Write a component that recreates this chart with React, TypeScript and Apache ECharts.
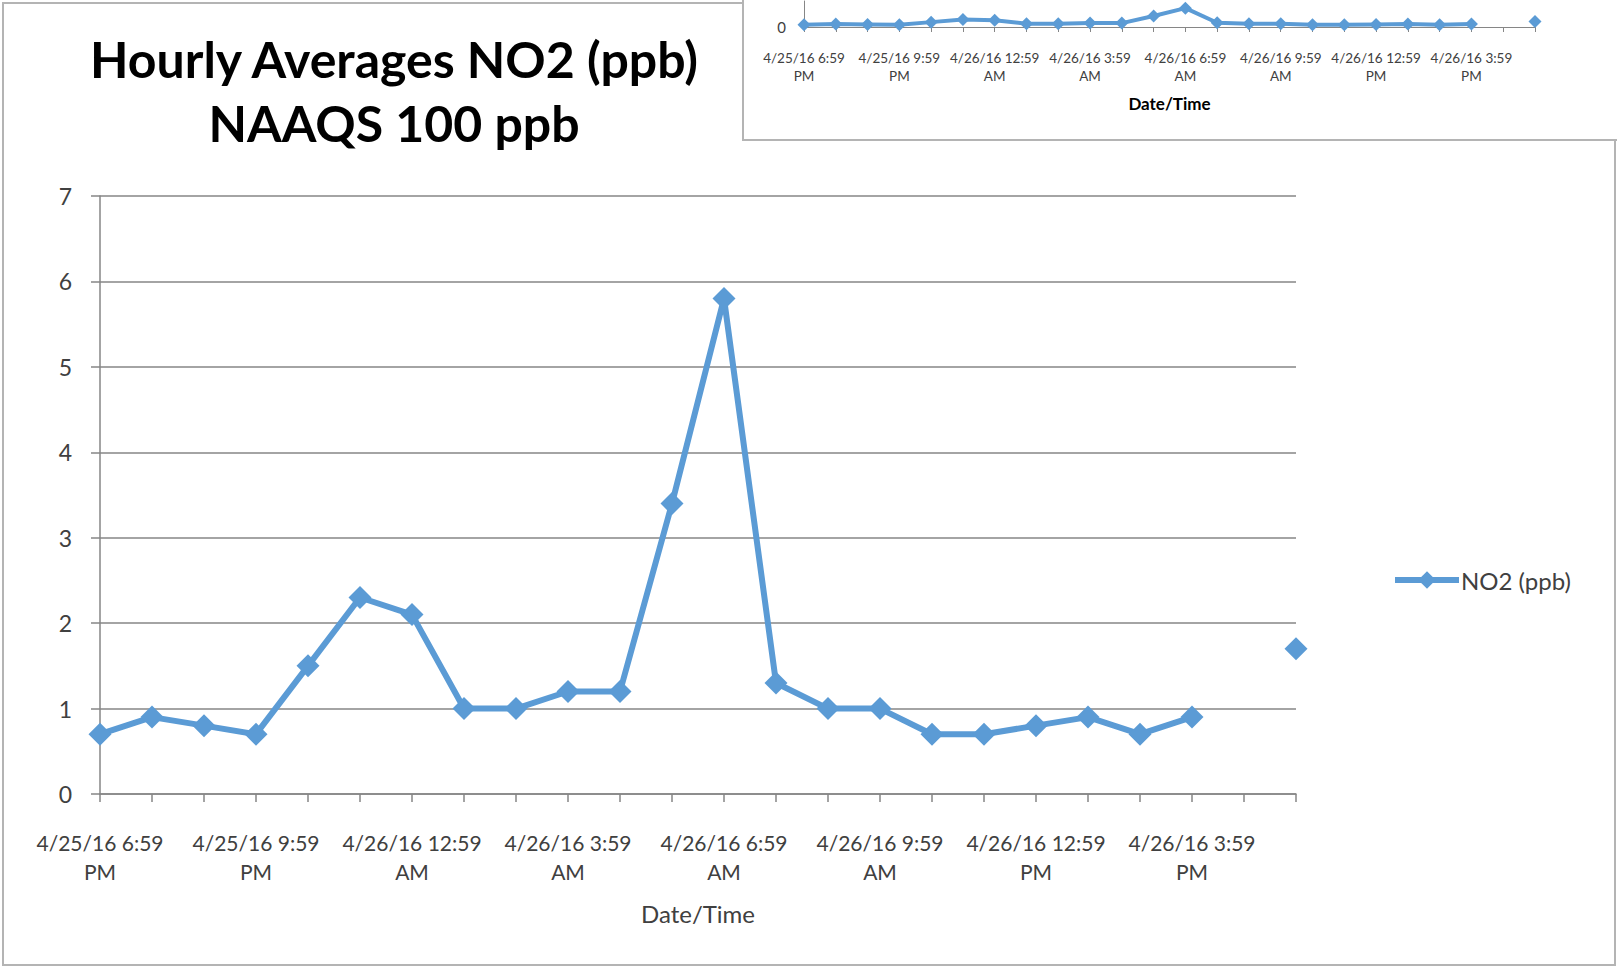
import React, { useEffect, useRef } from "react";
import * as echarts from "echarts";

const categories: string[] = [
  "4/25/16 6:59 PM", "4/25/16 7:59 PM", "4/25/16 8:59 PM", "4/25/16 9:59 PM",
  "4/25/16 10:59 PM", "4/25/16 11:59 PM", "4/26/16 12:59 AM", "4/26/16 1:59 AM",
  "4/26/16 2:59 AM", "4/26/16 3:59 AM", "4/26/16 4:59 AM", "4/26/16 5:59 AM",
  "4/26/16 6:59 AM", "4/26/16 7:59 AM", "4/26/16 8:59 AM", "4/26/16 9:59 AM",
  "4/26/16 10:59 AM", "4/26/16 11:59 AM", "4/26/16 12:59 PM", "4/26/16 1:59 PM",
  "4/26/16 2:59 PM", "4/26/16 3:59 PM", "4/26/16 4:59 PM", "4/26/16 5:59 PM",
];

const no2Values: (number | null)[] = [
  0.7, 0.9, 0.8, 0.7, 1.5, 2.3, 2.1, 1.0, 1.0, 1.2, 1.2, 3.4,
  5.8, 1.3, 1.0, 1.0, 0.7, 0.7, 0.8, 0.9, 0.7, 0.9, null, 1.7,
];

const yTicks: number[] = [0, 1, 2, 3, 4, 5, 6, 7];
const insetYRange: number[] = [0, 8];

const titleText = "Hourly Averages NO2 (ppb)\nNAAQS 100 ppb";
const seriesName = "NO2 (ppb)";
const xTitle = "Date/Time";

const BLUE = "#5B9BD5";
const AXIS = "#868686";
const TEXT = "#404040";
const FONT = "Lato, 'Open Sans', sans-serif";

const splitLabel = (s: string) => {
  const i = s.lastIndexOf(" ");
  return s.slice(0, i) + "\n" + s.slice(i + 1);
};

export default function App() {
  const ref = useRef<HTMLDivElement>(null);
  useEffect(() => {
    if (!ref.current) return;
    const chart = echarts.init(ref.current, null, { renderer: "svg" });
    chart.setOption({
      animation: false,
      backgroundColor: "#ffffff",
      textStyle: { fontFamily: FONT },
      title: {
        text: titleText,
        left: 389,
        top: 22,
        textAlign: "center",
        textStyle: {
          fontFamily: FONT,
          fontSize: 50,
          fontWeight: "bold",
          color: "#000000",
          lineHeight: 64,
        },
      },
      legend: {
        data: [seriesName],
        left: 1387,
        top: 563,
        itemWidth: 64,
        itemHeight: 22,
        itemGap: 4,
        lineStyle: { width: 6, color: BLUE },
        textStyle: { fontFamily: FONT, fontSize: 24, color: TEXT, padding: [0, 0, 0, -3] },
      },
      graphic: [
        {
          type: "rect",
          z: -10,
          shape: { x: 3, y: 3, width: 1612, height: 962 },
          style: { fill: "#ffffff", stroke: "#B4B4B4", lineWidth: 2 },
          silent: true,
        },
        {
          type: "rect",
          z: -5,
          shape: { x: 743, y: -4, width: 880, height: 144 },
          style: { fill: "#ffffff", stroke: "#B4B4B4", lineWidth: 2 },
          silent: true,
        },
      ],
      grid: [
        { left: 100, right: 321, top: 196, bottom: 174 },
        { left: 804, right: 82, top: 1, bottom: 941 },
      ],
      xAxis: [
        {
          type: "category",
          gridIndex: 0,
          data: categories,
          boundaryGap: false,
          name: xTitle,
          nameLocation: "middle",
          nameGap: 107,
          nameTextStyle: { fontFamily: FONT, fontSize: 24, color: TEXT },
          axisLine: { show: true, lineStyle: { color: AXIS, width: 1.5 } },
          axisTick: { show: true, interval: 0, length: 8, lineStyle: { color: AXIS, width: 1.5 } },
          axisLabel: {
            interval: 2,
            margin: 34,
            fontFamily: FONT,
            fontSize: 21,
            lineHeight: 29,
            color: TEXT,
            formatter: (v: string) => splitLabel(v),
          },
          splitLine: { show: false },
        },
        {
          type: "category",
          gridIndex: 1,
          data: categories,
          boundaryGap: false,
          name: xTitle,
          nameLocation: "middle",
          nameGap: 68,
          nameTextStyle: { fontFamily: FONT, fontSize: 17, fontWeight: "bold", color: "#000000" },
          axisLine: { show: true, lineStyle: { color: AXIS, width: 1 } },
          axisTick: { show: true, interval: 0, length: 5, lineStyle: { color: AXIS, width: 1 } },
          axisLabel: {
            interval: 2,
            margin: 22,
            fontFamily: FONT,
            fontSize: 13.5,
            lineHeight: 18,
            color: TEXT,
            formatter: (v: string) => splitLabel(v),
          },
          splitLine: { show: false },
        },
      ],
      yAxis: [
        {
          type: "value",
          gridIndex: 0,
          min: yTicks[0],
          max: yTicks[yTicks.length - 1],
          interval: 1,
          axisLine: { show: true, lineStyle: { color: AXIS, width: 1.5 } },
          axisTick: { show: true, length: 9, lineStyle: { color: AXIS, width: 1.5 } },
          axisLabel: { margin: 28, fontFamily: FONT, fontSize: 23, color: TEXT },
          splitLine: { show: true, lineStyle: { color: AXIS, width: 1.5 } },
        },
        {
          type: "value",
          gridIndex: 1,
          min: insetYRange[0],
          max: insetYRange[1],
          interval: 8,
          axisLine: { show: true, lineStyle: { color: AXIS, width: 1 } },
          axisTick: { show: false },
          axisLabel: {
            margin: 18,
            fontFamily: FONT,
            fontSize: 15,
            color: TEXT,
            showMaxLabel: false,
          },
          splitLine: { show: false },
        },
      ],
      series: [
        {
          name: seriesName,
          type: "line",
          xAxisIndex: 0,
          yAxisIndex: 0,
          data: no2Values,
          connectNulls: false,
          symbol: "diamond",
          symbolSize: 23,
          showAllSymbol: true,
          lineStyle: { color: BLUE, width: 6 },
          itemStyle: { color: BLUE },
        },
        {
          name: seriesName,
          type: "line",
          xAxisIndex: 1,
          yAxisIndex: 1,
          data: no2Values,
          connectNulls: false,
          symbol: "diamond",
          symbolSize: 13,
          showAllSymbol: true,
          lineStyle: { color: BLUE, width: 4 },
          itemStyle: { color: BLUE },
        },
      ],
    });
    return () => chart.dispose();
  }, []);
  return (
    <div
      ref={ref}
      style={{ position: "absolute", left: 0, top: 0, width: 1617, height: 968 }}
    />
  );
}
